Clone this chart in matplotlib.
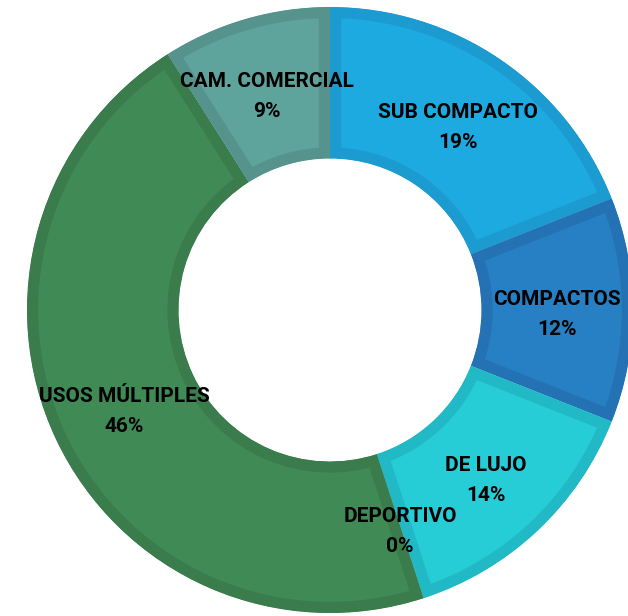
import matplotlib

matplotlib.use("Agg")
import matplotlib.pyplot as plt
import numpy as np

categories = ["SUB COMPACTO", "COMPACTOS", "DE LUJO", "DEPORTIVO", "USOS MÚLTIPLES", "CAM. COMERCIAL"]
shares = [19, 12, 14, 0, 46, 9]
pct_labels = ["19%", "12%", "14%", "0%", "46%", "9%"]

fills = ["#1DAAE1", "#2680C3", "#26CCD6", "#3F8A55", "#3F8A55", "#5FA39D"]
edges = ["#1C9BD0", "#2472B4", "#22B9C6", "#3A7C4C", "#3A7C4C", "#56938D"]

W, H = 628, 616
R_PX = 303
CX, CY = 330, 306  # centre in pixels from bottom-left

fig = plt.figure(figsize=(W / 100, H / 100), dpi=100)
ax = fig.add_axes([0, 0, 1, 1])

wedges, _ = ax.pie(shares, startangle=90, counterclock=False, radius=1,
                   colors=fills, wedgeprops=dict(width=0.5, linewidth=0))

ax.set_xlim(-CX / R_PX, (W - CX) / R_PX)
ax.set_ylim(-CY / R_PX, (H - CY) / R_PX)
ax.set_aspect("equal")
ax.axis("off")

# darker inner border, clipped to each wedge (pie turns clipping off)
for w, ec in zip(wedges, edges):
    w.set_edgecolor(ec)
    w.set_linewidth(16)
    w.set_clip_path(w)
    w.set_clip_on(True)

dy = 15 / R_PX
shift = 5 / R_PX
for w, name, pct in zip(wedges, categories, pct_labels):
    mid = np.deg2rad((w.theta1 + w.theta2) / 2)
    x, y = 0.75 * np.cos(mid), 0.75 * np.sin(mid) - shift
    kw = dict(ha="center", va="center", fontsize=15, fontweight="bold",
              family="Roboto", color="#000000")
    ax.text(x, y + dy, name, **kw)
    ax.text(x, y - dy, pct, **kw)

fig.savefig("out.png", dpi=100)
